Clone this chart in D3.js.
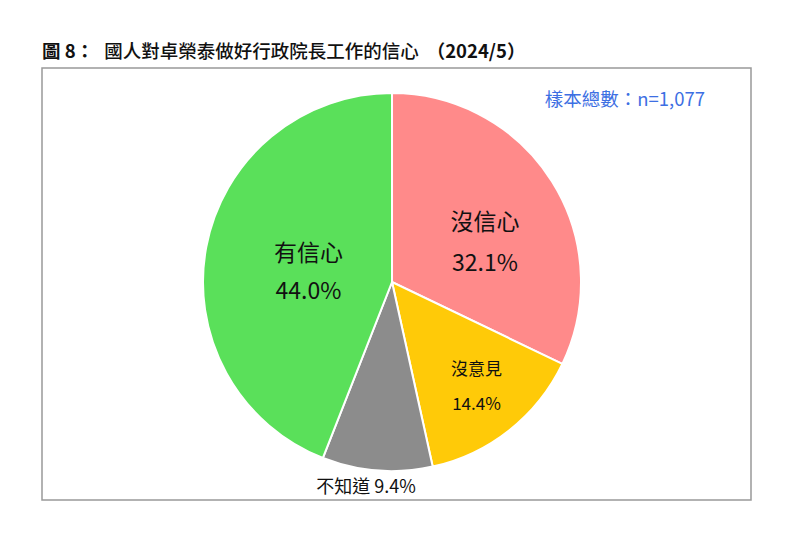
<!DOCTYPE html>
<html><head><meta charset="utf-8">
<script src="https://cdn.jsdelivr.net/npm/d3@7"></script>
<style>body{margin:0;background:#fff;}svg{display:block;}</style>
</head><body>
<svg id="c" width="800" height="550"></svg>
<script>
const categories = ["沒信心", "沒意見", "不知道", "有信心"];
const values = [32.1, 14.4, 9.4, 44.0];
const colors = ["#FF8A8A", "#FFCA08", "#8C8C8C", "#5AE05A"];
const titleParts = ["圖 8：", "國人對卓榮泰做好行政院長工作的信心", "（2024/5）"];
const sampleText = "樣本總數：n=1,077";

const svg = d3.select("#c");
const font = "'Noto Sans CJK TC','Noto Sans',sans-serif";

const title = svg.append("text").attr("x", 42).attr("y", 58)
  .attr("font-family", font).attr("font-size", 18.5).attr("fill", "#111");
title.append("tspan").attr("font-weight", "bold").text(titleParts[0]);
title.append("tspan").attr("dx", 10).attr("font-weight", 500).text(titleParts[1]);
title.append("tspan").attr("dx", 8).attr("font-weight", "bold").text(titleParts[2]);

svg.append("rect").attr("x", 42).attr("y", 68).attr("width", 709).attr("height", 432)
  .attr("fill", "#fff").attr("stroke", "#999").attr("stroke-width", 1.5);

svg.append("text").attr("x", 705).attr("y", 106).attr("text-anchor", "end")
  .attr("font-family", font).attr("font-size", 18.5)
  .attr("fill", "#3D6FE3").text(sampleText);

const cx = 392, cy = 282, r = 189;
const data = categories.map((c, i) => ({cat: c, v: values[i], color: colors[i]}));
const pie = d3.pie().value(d => d.v).sort(null);
const arcs = pie(data);
const arc = d3.arc().innerRadius(0).outerRadius(r);
const g = svg.append("g").attr("transform", `translate(${cx},${cy})`);
g.selectAll("path").data(arcs).join("path")
  .attr("d", arc).attr("fill", d => d.data.color)
  .attr("stroke", "#fff").attr("stroke-width", 2);

// label layout: radius fraction, font size, line gap, dx, dy, inline
const layout = {
  "沒信心": {f: 0.55, fs: 23, gap: 41, dx: 5, dy: 14},
  "沒意見": {f: 0.72, fs: 17, gap: 35, dx: 0, dy: -4},
  "不知道": {f: 1.08, fs: 18, inline: true, dx: -10, dy: 0},
  "有信心": {f: 0.45, fs: 23, gap: 38, dx: 0, dy: 4}
};
arcs.forEach(a => {
  const L = layout[a.data.cat];
  const mid = (a.startAngle + a.endAngle) / 2;
  const x = Math.sin(mid) * r * L.f + L.dx;
  const y = -Math.cos(mid) * r * L.f + L.dy;
  const pct = a.data.v.toFixed(1) + "%";
  const mk = (yy, t) => g.append("text").attr("x", x).attr("y", yy).attr("text-anchor", "middle")
      .attr("dominant-baseline", "central").attr("font-family", font)
      .attr("font-size", L.fs).attr("fill", "#111").text(t);
  if (L.inline) {
    mk(y, a.data.cat + " " + pct);
  } else {
    mk(y - L.gap / 2, a.data.cat);
    mk(y + L.gap / 2, pct);
  }
});
</script>
</body></html>
